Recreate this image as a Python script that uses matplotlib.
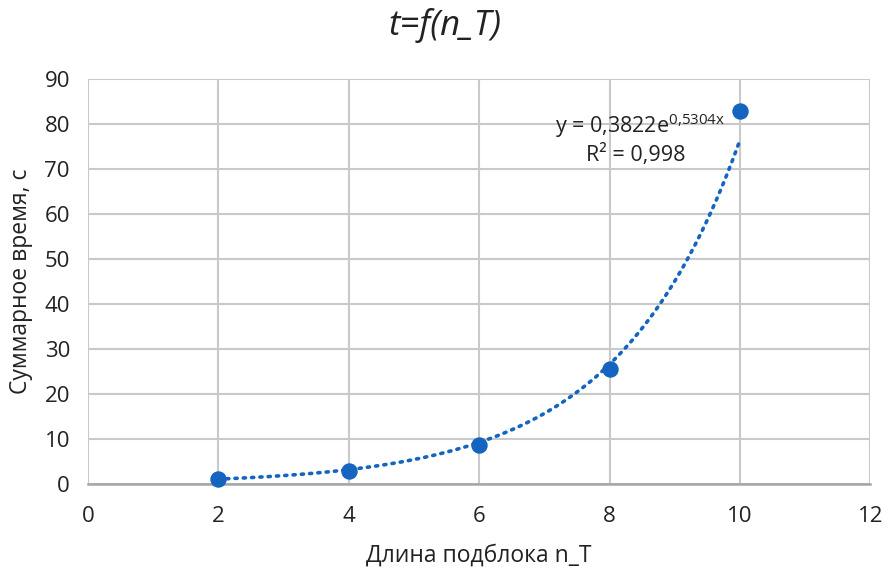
import matplotlib
matplotlib.use("Agg")
import matplotlib.pyplot as plt
import numpy as np

plt.rcParams['font.family'] = ['Open Sans', 'DejaVu Sans']

# data
block_len = [2, 4, 6, 8, 10]
total_time = [1.25, 2.96, 8.8, 25.5, 82.9]
x_ticks = [0, 2, 4, 6, 8, 10, 12]
y_ticks = [0, 10, 20, 30, 40, 50, 60, 70, 80, 90]

blue = '#1464c0'
grid_col = '#c9c9c9'
txt_col = '#222222'

# exponential trend fitted on the points (Excel-style: ln y linear in x)
b, ln_a = np.polyfit(block_len, np.log(total_time), 1)
xs = np.linspace(block_len[0], block_len[-1], 200)
trend = np.exp(ln_a) * np.exp(b * xs)

fig = plt.figure(figsize=(8.89, 5.73), dpi=100)
ax = fig.add_axes([0.099, 0.155, 0.88, 0.707])

ax.plot(xs, trend, color=blue, linestyle=(0, (0.6, 1.7)), linewidth=2.6,
        dash_capstyle='round', zorder=3)
ax.scatter(block_len, total_time, s=117, color=blue, zorder=4, clip_on=False)

ax.set_xlim(0, 12)
ax.set_ylim(0, 90)
ax.set_xticks(x_ticks)
ax.set_yticks(y_ticks)
ax.grid(True, color=grid_col, linewidth=1.5)
ax.set_axisbelow(True)
for side in ['top', 'right', 'left']:
    ax.spines[side].set_visible(False)
ax.spines['bottom'].set_color('#a6a6a6')
ax.spines['bottom'].set_linewidth(1.8)
ax.tick_params(length=0, labelsize=16, colors=txt_col)
ax.tick_params(axis='x', pad=16)
ax.tick_params(axis='y', pad=13)

ax.set_xlabel('Длина подблока n_T', fontsize=16.5, labelpad=12, color=txt_col)
ax.set_ylabel('Суммарное время, с', fontsize=16.5, labelpad=8, color=txt_col)
fig.text(0.5, 0.956, 't=f(n_T)', fontsize=25, style='italic',
         ha='center', va='center', color=txt_col)

ax.text(7.16, 79.6, r'y = 0,3822e$^{\mathregular{0{,}5304x}}$', fontsize=15.5,
        color=txt_col, va='center', ha='left')
ax.text(7.64, 73.1, 'R² = 0,998', fontsize=15.5, color=txt_col,
        va='center', ha='left')

fig.savefig('out.png', dpi=100)
